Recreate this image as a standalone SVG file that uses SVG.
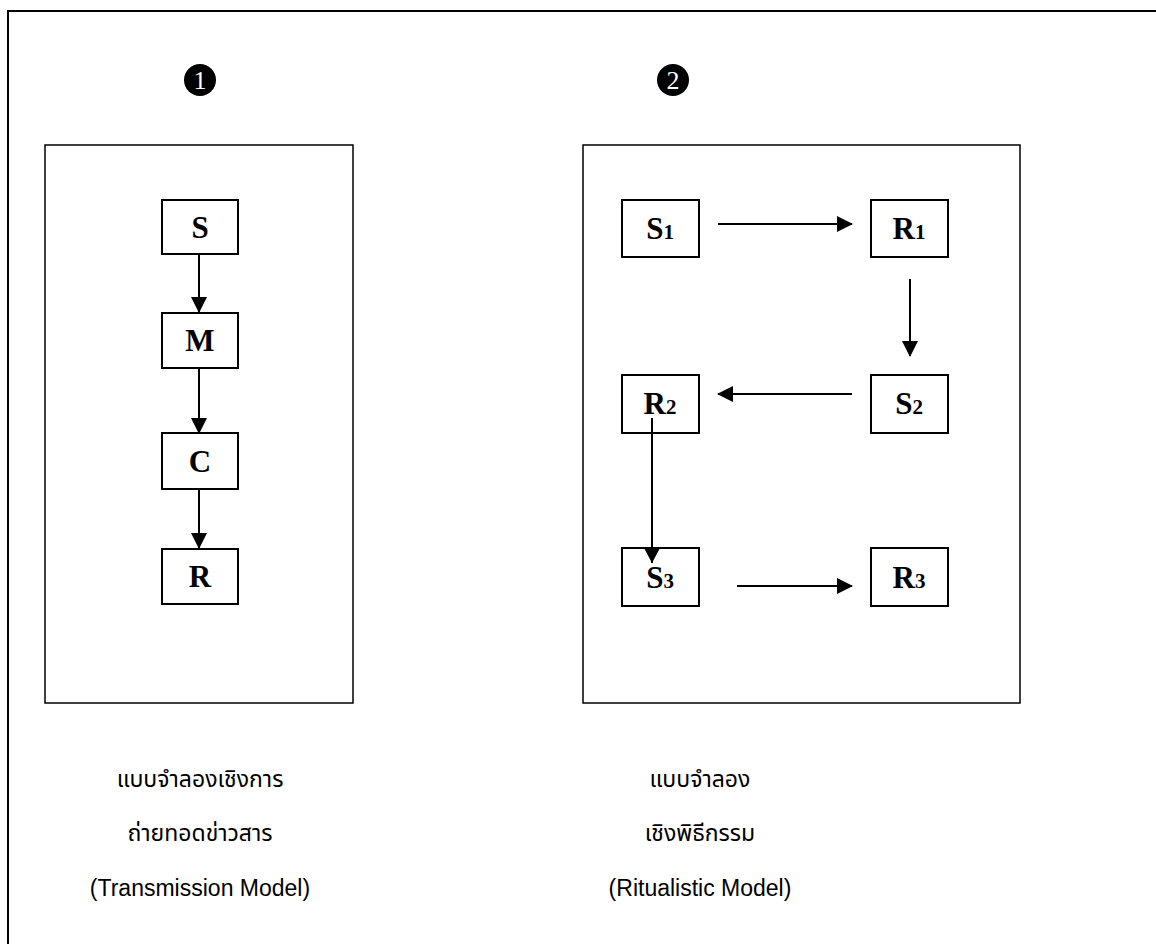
<svg xmlns="http://www.w3.org/2000/svg" width="1156" height="944" viewBox="0 0 1156 944">
<defs>
<marker id="ah" viewBox="0 0 16 16" refX="15" refY="8" markerWidth="16" markerHeight="16" markerUnits="userSpaceOnUse" orient="auto">
<path d="M0,0 L16,8 L0,16 Z" fill="#000"/>
</marker>
<style>
.frame{fill:none;stroke:#000;stroke-width:2}
.panel{fill:none;stroke:#000;stroke-width:1.5}
.box{fill:#fff;stroke:#000;stroke-width:2}
.lbl{font-family:"Liberation Serif","Times New Roman",serif;font-weight:bold;font-size:31px;text-anchor:middle}
.sub{font-size:21px}
.cap{font-family:"Liberation Sans","Noto Sans Thai","Loma","Garuda","Noto Sans",sans-serif;font-size:23px;text-anchor:middle;fill:#000}
.num{font-family:"Liberation Serif",serif;font-size:26px;fill:#fff;text-anchor:middle}
.conn{stroke:#000;stroke-width:2;fill:none;marker-end:url(#ah)}
</style>
</defs>
<rect width="1156" height="944" fill="#fff"/>
<path class="frame" d="M8,960 L8,11 L1170,11"/>
<g id="badge1"><circle cx="200" cy="80" r="16" fill="#000"/><text class="num" x="200" y="89">1</text></g>
<g id="badge2"><circle cx="673" cy="80" r="16" fill="#000"/><text class="num" x="673" y="89">2</text></g>
<g id="panel-transmission"><rect class="panel" x="45" y="145" width="308" height="558"/></g>
<g id="panel-ritualistic"><rect class="panel" x="583" y="145" width="437" height="558"/></g>
<g id="connectors">
<line class="conn" x1="199" y1="254" x2="199" y2="312"/>
<line class="conn" x1="199" y1="368" x2="199" y2="433"/>
<line class="conn" x1="199" y1="489" x2="199" y2="548"/>
<line class="conn" x1="718" y1="224" x2="852" y2="224"/>
<line class="conn" x1="910" y1="279" x2="910" y2="356"/>
<line class="conn" x1="852" y1="394" x2="718" y2="394"/>
<line class="conn" x1="652" y1="418" x2="652" y2="563"/>
<line class="conn" x1="737" y1="586" x2="852" y2="586"/>
</g>
<g id="node-S"><rect class="box" x="162" y="200" width="76" height="54"/><text class="lbl" x="200" y="238">S</text></g>
<g id="node-M"><rect class="box" x="162" y="313" width="76" height="55"/><text class="lbl" x="200" y="351">M</text></g>
<g id="node-C"><rect class="box" x="162" y="433" width="76" height="56"/><text class="lbl" x="200" y="472">C</text></g>
<g id="node-R"><rect class="box" x="162" y="549" width="76" height="55"/><text class="lbl" x="200" y="587">R</text></g>
<g id="node-S1"><rect class="box" x="622" y="200" width="77" height="57"/><text class="lbl" x="660" y="239">S<tspan class="sub">1</tspan></text></g>
<g id="node-R1"><rect class="box" x="871" y="200" width="77" height="57"/><text class="lbl" x="909" y="239">R<tspan class="sub">1</tspan></text></g>
<g id="node-R2"><rect class="box" x="622" y="375" width="77" height="58"/><text class="lbl" x="660" y="414">R<tspan class="sub">2</tspan></text></g>
<g id="node-S2"><rect class="box" x="871" y="375" width="77" height="58"/><text class="lbl" x="909" y="414">S<tspan class="sub">2</tspan></text></g>
<line x1="652" y1="418" x2="652" y2="433" stroke="#000" stroke-width="2"/>
<g id="node-S3"><rect class="box" x="622" y="548" width="77" height="58"/><text class="lbl" x="660" y="588">S<tspan class="sub">3</tspan></text></g>
<line x1="652" y1="548" x2="652" y2="563" stroke="#000" stroke-width="2"/>
<path d="M644,548 L660,548 L652,563 Z" fill="#000"/>
<g id="node-R3"><rect class="box" x="871" y="548" width="77" height="58"/><text class="lbl" x="909" y="588">R<tspan class="sub">3</tspan></text></g>
<g id="caption-1">
<text class="cap" x="200" y="787">แบบจำลองเชิงการ</text>
<text class="cap" x="200" y="841">ถ่ายทอดข่าวสาร</text>
<text class="cap" x="200" y="896">(Transmission Model)</text>
</g>
<g id="caption-2">
<text class="cap" x="700" y="787">แบบจำลอง</text>
<text class="cap" x="700" y="841">เชิงพิธีกรรม</text>
<text class="cap" x="700" y="896">(Ritualistic Model)</text>
</g>
</svg>
